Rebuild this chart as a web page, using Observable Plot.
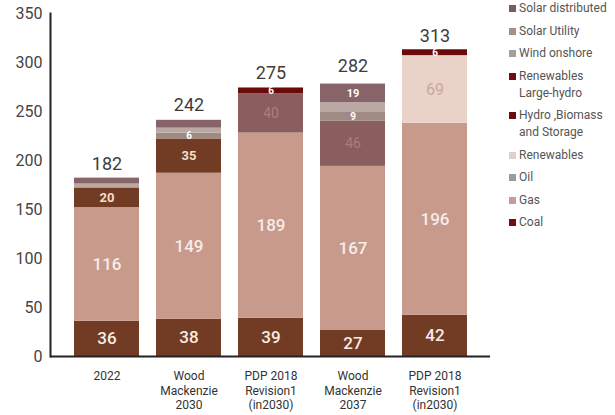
<!DOCTYPE html>
<html><head><meta charset="utf-8">
<script src="https://cdn.jsdelivr.net/npm/d3@7"></script>
<script src="https://cdn.jsdelivr.net/npm/@observablehq/plot@0.6"></script>
<style>
html,body{margin:0;padding:0;background:#fff;}
#wrap{position:relative;width:615px;height:415px;overflow:hidden;font-family:Roboto,sans-serif;}
#legend{position:absolute;left:509px;top:0px;font-size:12px;color:#555;line-height:17px;}
.item{display:flex;align-items:flex-start;margin-bottom:5.5px;}
.sw{width:7px;height:7px;margin-top:5px;margin-right:3px;flex:none;}
.lab{white-space:pre-line;}
</style></head><body>
<div id="wrap"><div id="chart"></div><div id="legend"></div></div>
<script>
// ---- data ----
const categories = ["2022", "WM2030", "PDP2030a", "WM2037", "PDP2030b"];
const tickLabels = ["2022", "Wood\nMackenzie\n2030", "PDP 2018\nRevision1\n(in2030)", "Wood\nMackenzie\n2037", "PDP 2018\nRevision1\n(in2030)"];
const totals = [182, 242, 275, 282, 313];
const yTicks = [0, 50, 100, 150, 200, 250, 300, 350];

// stack order, bottom to top
const seriesNames = ["Coal", "Gas", "Hydro ,Biomass\nand Storage", "Renewables", "Solar  Utility", "Wind onshore", "Oil", "Solar distributed", "Renewables\nLarge-hydro"];
const coal       = [36, 38, 39, 27, 42];
const gas        = [116, 149, 189, 167, 196];
const hydroBio   = [20, 35, 0, 0, 0];
const renewables = [0, 0, 0, 0, 69];
const solarUtil  = [0, 0, 40, 46, 0];
const wind       = [0, 6, 0, 9, 0];
const oil        = [4, 5, 0, 10, 0];
const solarDist  = [6, 8, 0, 19, 0];
const largeHydro = [0, 0, 6, 0, 6];
const seriesValues = [coal, gas, hydroBio, renewables, solarUtil, wind, oil, solarDist, largeHydro];

// legend, top to bottom
const legendNames = ["Solar distributed", "Solar  Utility", "Wind onshore", "Renewables\nLarge-hydro", "Hydro ,Biomass\nand Storage", "Renewables", "Oil", "Gas", "Coal"];

// ---- styles ----
const barColors = ["#723c24", "#c89a8b", "#723c24", "#e9d3c9", "#8b5e5e", "#a08b84", "#bca8a2", "#876468", "#6a0a0a"];
const legendColors = {"Solar distributed":"#7b5b60", "Solar  Utility":"#a88e8a", "Wind onshore":"#a0a0a0",
  "Renewables\nLarge-hydro":"#6e0c12", "Hydro ,Biomass\nand Storage":"#6a0a10", "Renewables":"#e0d0d0",
  "Oil":"#9c9c9c", "Gas":"#c59c96", "Coal":"#720d14"};

const rows = [];
seriesNames.forEach((s, si) => categories.forEach((c, ci) => rows.push({cat: c, series: s, value: seriesValues[si][ci]})));
const totalRows = categories.map((c, i) => ({cat: c, total: totals[i]}));

const lab = (names, minV = 1) => d => (names.includes(d.series) && d.value >= minV) ? String(d.value) : "";

const chart = Plot.plot({
  width: 615, height: 415,
  marginLeft: 50, marginRight: 125, marginTop: 13, marginBottom: 59,
  x: {domain: categories, paddingInner: 0.21, paddingOuter: 0.28, axis: null},
  y: {domain: [0, 350], axis: null},
  color: {domain: seriesNames, range: barColors},
  style: {fontFamily: "Roboto, sans-serif", background: "white"},
  marks: [
    Plot.barY(rows, {x: "cat", y: "value", fill: "series"}),
    Plot.text(rows, Plot.stackY({x: "cat", y: "value", text: lab(["Coal", "Gas"]), fontSize: 17, fontWeight: 500, fill: "#f6ece8"})),
    Plot.text(rows, Plot.stackY({x: "cat", y: "value", text: lab(["Hydro ,Biomass\nand Storage"]), fontSize: 13, fontWeight: "bold", fill: "#f3dccd"})),
    Plot.text(rows, Plot.stackY({x: "cat", y: "value", text: lab(["Solar  Utility"]), fontSize: 14, fill: "#a87d7e"})),
    Plot.text(rows, Plot.stackY({x: "cat", y: "value", text: lab(["Renewables"]), fontSize: 16, fill: "#c9a79e"})),
    Plot.text(rows, Plot.stackY({x: "cat", y: "value", text: lab(["Wind onshore", "Renewables\nLarge-hydro"]), fontSize: 10, fontWeight: "bold", fill: "#ffffff"})),
    Plot.text(rows, Plot.stackY({x: "cat", y: "value", text: lab(["Solar distributed"], 10), fontSize: 11, fontWeight: "bold", fill: "#ffffff"})),
    Plot.text(totalRows, {x: "cat", y: "total", text: d => String(d.total), dy: -14, fontSize: 18, fill: "#3d3d3d"}),
    Plot.axisY({ticks: yTicks, tickSize: 0, tickPadding: 8, fontSize: 16, color: "#444", label: null}),
    Plot.axisX({tickSize: 0, tickPadding: 14, fontSize: 12, lineHeight: 1.17, color: "#333", label: null,
      tickFormat: d => tickLabels[categories.indexOf(d)]}),
    Plot.ruleY([0], {stroke: "#222", strokeWidth: 2}),
    Plot.frame({anchor: "left", stroke: "#222", strokeWidth: 2})
  ]
});
document.getElementById("chart").appendChild(chart);

const leg = document.getElementById("legend");
legendNames.forEach(n => {
  const it = document.createElement("div"); it.className = "item";
  const sw = document.createElement("span"); sw.className = "sw"; sw.style.background = legendColors[n];
  const tx = document.createElement("span"); tx.className = "lab"; tx.textContent = n;
  it.appendChild(sw); it.appendChild(tx); leg.appendChild(it);
});
</script>
</body></html>
